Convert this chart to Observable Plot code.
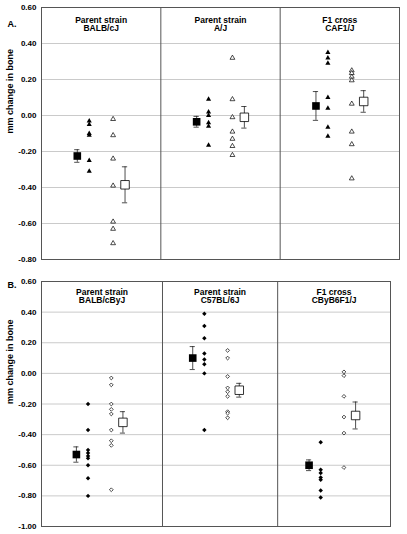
<!DOCTYPE html>
<html>
<head>
<meta charset="utf-8">
<script src="https://cdn.jsdelivr.net/npm/d3@7"></script>
<script src="https://cdn.jsdelivr.net/npm/@observablehq/plot@0.6"></script>
<style>
  body { margin: 0; background: #fff; }
  #chart { position: relative; width: 407px; height: 534px; }
  #chart svg { display: block; }
</style>
</head>
<body>
<div id="chart"></div>
<script>
// ---------- Panel A ----------
const panelsA = ["Parent strain\nBALB/cJ", "Parent strain\nA/J", "F1 cross\nCAF1/J"];
const dividersA = [1, 2];
const filledA = [
  [-0.03, -0.05, -0.10, -0.11, -0.25, -0.31],
  [0.09, 0.02, 0.00, -0.04, -0.06, -0.165],
  [0.35, 0.32, 0.29, 0.10, 0.04, -0.065, -0.115]
];
const openA = [
  [-0.02, -0.11, -0.24, -0.39, -0.59, -0.63, -0.71],
  [0.32, 0.09, -0.01, -0.09, -0.13, -0.17, -0.22],
  [0.25, 0.235, 0.215, 0.195, 0.065, -0.09, -0.16, -0.35]
];
const filledMeanA = [-0.225, -0.035, 0.053];
const filledErrA = [0.035, 0.03, 0.08];
const openMeanA = [-0.385, -0.01, 0.078];
const openErrA = [0.10, 0.06, 0.06];
const ticksA = [0.6, 0.4, 0.2, 0, -0.2, -0.4, -0.6, -0.8];

// ---------- Panel B ----------
const panelsB = ["Parent strain\nBALB/cByJ", "Parent strain\nC57BL/6J", "F1 cross\nCByB6F1/J"];
const dividersB = [1.04, 2.03];
const filledB = [
  [-0.20, -0.37, -0.50, -0.52, -0.54, -0.555, -0.60, -0.685, -0.80],
  [0.39, 0.31, 0.23, 0.13, 0.09, 0.06, 0.00, -0.37],
  [-0.45, -0.63, -0.65, -0.68, -0.695, -0.765, -0.81]
];
const openB = [
  [-0.03, -0.075, -0.20, -0.235, -0.265, -0.37, -0.44, -0.47, -0.76],
  [0.15, 0.10, -0.02, -0.095, -0.12, -0.15, -0.25, -0.26, -0.29],
  [0.01, -0.015, -0.15, -0.285, -0.39, -0.615]
];
const filledMeanB = [-0.53, 0.10, -0.60];
const filledErrB = [0.05, 0.075, 0.035];
const openMeanB = [-0.32, -0.11, -0.275];
const openErrB = [0.07, 0.045, 0.088];
const ticksB = [0.6, 0.4, 0.2, 0, -0.2, -0.4, -0.6, -0.8, -1.0];

const FONT = "'Liberation Sans', Arial, Helvetica, sans-serif";
const OFF = {fmean: 0.3, fpts: 0.4, opts: 0.6, omean: 0.7};
const CAP = 0.022;

function build(cfg) {
  const fPts = cfg.filled.flatMap((arr, i) => arr.map(v => ({x: i + OFF.fpts, y: v})));
  const oPts = cfg.open.flatMap((arr, i) => arr.map(v => ({x: i + OFF.opts, y: v})));
  const fMean = cfg.fMean.map((m, i) => ({x: i + OFF.fmean, y: m, lo: m - cfg.fErr[i], hi: m + cfg.fErr[i]}));
  const oMean = cfg.oMean.map((m, i) => ({x: i + OFF.omean, y: m, lo: m - cfg.oErr[i], hi: m + cfg.oErr[i]}));
  const bars = [...fMean, ...oMean];
  const grid = cfg.ticks.slice(1, -1);
  const bounds = [0, ...cfg.dividers, 3];
  return Plot.plot({
    width: 407,
    height: cfg.height,
    marginLeft: 41,
    marginRight: cfg.marginRight,
    marginTop: cfg.marginTop,
    marginBottom: cfg.marginBottom,
    style: {fontFamily: FONT, fontSize: "8px", fontWeight: "bold", background: "#fff", overflow: "visible"},
    x: {domain: [0, 3], axis: null},
    y: {domain: [cfg.ticks[cfg.ticks.length - 1], cfg.ticks[0]]},
    marks: [
      Plot.ruleY(grid, {stroke: "#bcbcbc", strokeWidth: 0.8}),
      Plot.ruleX(cfg.dividers, {stroke: "#555", strokeWidth: 1}),
      Plot.frame({stroke: "#555", strokeWidth: 1}),
      Plot.axisY({ticks: cfg.ticks, tickFormat: d => d.toFixed(2), tickSize: 0, tickPadding: 5, label: null, fontSize: 8, fontWeight: "bold"}),
      Plot.text(["mm change in bone"], {frameAnchor: "left", dx: -31, rotate: -90, fontSize: 9, fontWeight: "bold", fill: "#000"}),
      Plot.text([cfg.letter], {frameAnchor: "top-left", dx: -34, dy: cfg.letterDy, textAnchor: "start", fontSize: 9, fontWeight: "bold", fill: "#000"}),
      Plot.text(cfg.titles, {x: (d, i) => (bounds[i] + bounds[i + 1]) / 2, frameAnchor: "top", dy: cfg.titleDy, lineAnchor: "top", lineHeight: 1.0, fontSize: 8.5, fontWeight: "bold", fill: "#000"}),
      // error bars
      Plot.ruleX(bars, {x: "x", y1: "lo", y2: "hi", stroke: "#222", strokeWidth: 0.8}),
      Plot.ruleY(bars, {y: "lo", x1: d => d.x - CAP, x2: d => d.x + CAP, stroke: "#222", strokeWidth: 0.8}),
      Plot.ruleY(bars, {y: "hi", x1: d => d.x - CAP, x2: d => d.x + CAP, stroke: "#222", strokeWidth: 0.8}),
      // individual points
      Plot.dot(fPts, {x: "x", y: "y", symbol: cfg.symbol, r: cfg.rf, fill: "#000", stroke: "none"}),
      Plot.dot(oPts, {x: "x", y: "y", symbol: cfg.symbol, r: cfg.ro, fill: "#fff", stroke: "#000", strokeWidth: 0.7}),
      // means
      Plot.dot(fMean, {x: "x", y: "y", symbol: "square", r: 4.3, fill: "#000", stroke: "none"}),
      Plot.dot(oMean, {x: "x", y: "y", symbol: "square", r: 4.8, fill: "#fff", stroke: "#000", strokeWidth: 0.8})
    ]
  });
}

const chartA = build({
  titles: panelsA, dividers: dividersA, filled: filledA, open: openA,
  fMean: filledMeanA, fErr: filledErrA, oMean: openMeanA, oErr: openErrA,
  ticks: ticksA, height: 269, marginTop: 7, marginBottom: 10, marginRight: 8,
  letter: "A.", letterDy: 13, titleDy: 9, symbol: "triangle", rf: 1.9, ro: 1.8
});
const chartB = build({
  titles: panelsB, dividers: dividersB, filled: filledB, open: openB,
  fMean: filledMeanB, fErr: filledErrB, oMean: openMeanB, oErr: openErrB,
  ticks: ticksB, height: 265, marginTop: 12, marginBottom: 8, marginRight: 17,
  letter: "B.", letterDy: 0, titleDy: 7, symbol: "diamond2", rf: 2.0, ro: 1.7
});
const el = document.getElementById("chart");
el.appendChild(chartA);
el.appendChild(chartB);
</script>
</body>
</html>
